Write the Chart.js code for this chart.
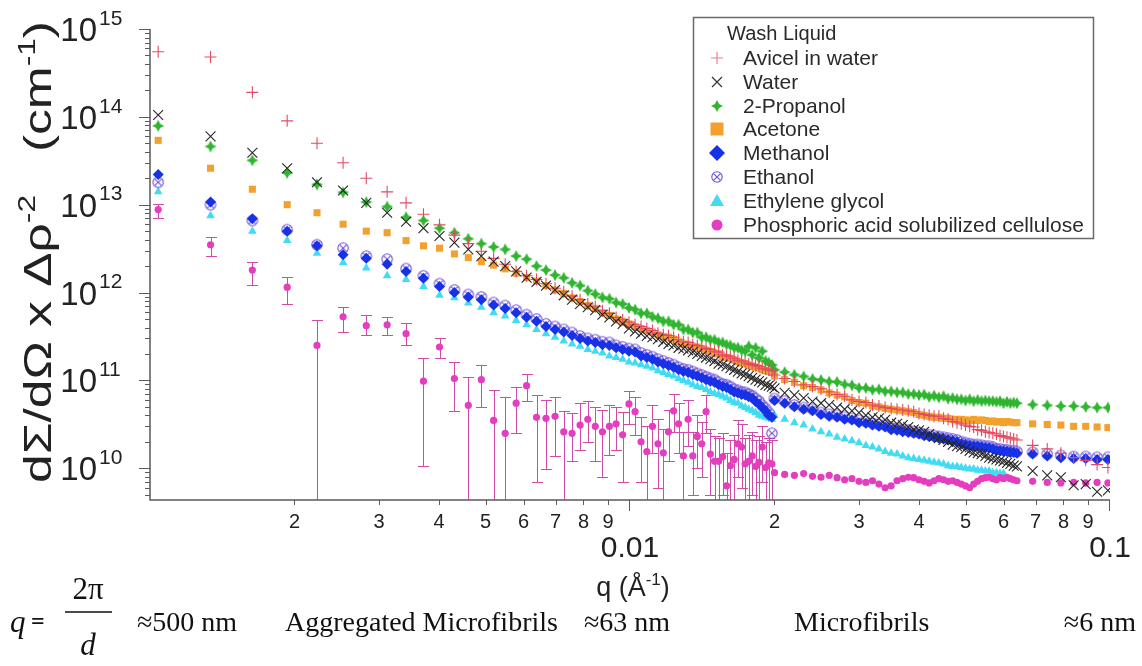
<!DOCTYPE html>
<html>
<head>
<meta charset="utf-8">
<script src="https://cdn.jsdelivr.net/npm/chart.js@4.4.1/dist/chart.umd.min.js"></script>
<style>
html,body{margin:0;padding:0;background:#fff;overflow:hidden}
canvas{display:block}
</style>
</head>
<body>
<canvas id="c" width="1142" height="666"></canvas>
<script>
// ---------- q values (Å^-1) ----------
const qLow = [0.00104,0.001337,0.001634,0.001931,0.002228,0.002525,0.002822,0.003119,0.003416,0.003713,
0.00401,0.004307,0.004604,0.004901,0.005198,0.005495,0.005792,0.006089,0.006386,0.006683,
0.00698,0.007277,0.007574,0.007871,0.008168,0.008465,0.008762,0.009059,0.009356,0.009653,
0.00995,0.010247,0.010544,0.010841,0.011138,0.011435,0.011732,0.012029,0.012326,0.012623,
0.01292,0.013217,0.013514,0.013811,0.014108,0.014405,0.014702,0.014999,0.015296,0.015593,
0.01589,0.016187,0.016484,0.016781,0.017078,0.017375,0.017672,0.017969,0.018266,0.018563,
0.01886,0.019157,0.019454,0.019751];
const qHigh = [0.020,0.021,0.022,0.023,0.024,0.025,0.026,0.027,0.028,0.029,
0.030,0.031,0.032,0.033,0.034,0.035,0.036,0.037,0.038,0.039,
0.040,0.041,0.042,0.043,0.044,0.045,0.046,0.047,0.048,0.049,
0.050,0.051,0.052,0.053,0.054,0.055,0.056,0.057,0.058,0.059,
0.060,0.061,0.062,0.063,0.064,0.069,0.074,0.079,0.084,0.089,
0.094,0.099];

// ---------- series values, dΣ/dΩ x Δρ^-2 (cm^-1) ----------
const avicelLow = [5.5e14,4.8e14,1.9e14,9.0e13,5.0e13,3.0e13,2.0e13,1.4e13,1.05e13,7.8e12,
5.9e12,4.5e12,3.6e12,2.95e12,2.45e12,2.1e12,1.74e12,1.55e12,1.41e12,1.26e12,
1.12e12,1.02e12,9.1e11,8.3e11,7.4e11,6.9e11,6.2e11,5.8e11,5.2e11,4.9e11,
4.6e11,4.3e11,4.1e11,3.9e11,3.7e11,3.45e11,3.3e11,3.25e11,3.1e11,2.9e11,
2.75e11,2.7e11,2.55e11,2.5e11,2.4e11,2.3e11,2.25e11,2.15e11,2.1e11,1.95e11,
1.9e11,1.86e11,1.78e11,1.7e11,1.66e11,1.62e11,1.55e11,1.52e11,1.48e11,1.45e11,
1.38e11,1.35e11,1.32e11,1.29e11];
const avicelHigh = [1.15e11,1.05e11,9.7e10,8.9e10,8.5e10,8.0e10,7.4e10,6.9e10,6.6e10,6.0e10,
5.75e10,5.6e10,5.25e10,5.1e10,4.9e10,4.8e10,4.7e10,4.6e10,4.5e10,4.4e10,
4.2e10,4.1e10,4.0e10,3.9e10,3.9e10,3.7e10,3.6e10,3.4e10,3.3e10,3.2e10,
3.1e10,3.0e10,2.95e10,2.75e10,2.7e10,2.6e10,2.55e10,2.5e10,2.45e10,2.35e10,
2.3e10,2.25e10,2.2e10,2.15e10,2.1e10,1.82e10,1.66e10,1.48e10,1.32e10,1.23e10,
1.1e10,1.02e10];

const waterLow = [1.05e14,6.0e13,3.9e13,2.6e13,1.8e13,1.45e13,1.05e13,8.1e12,6.4e12,5.4e12,
4.4e12,3.7e12,3.1e12,2.6e12,2.25e12,2.0e12,1.74e12,1.48e12,1.32e12,1.2e12,
1.07e12,9.3e11,8.3e11,7.4e11,6.8e11,6.3e11,5.6e11,5.2e11,4.7e11,4.4e11,
3.9e11,3.6e11,3.4e11,3.2e11,3.1e11,2.95e11,2.75e11,2.6e11,2.5e11,2.35e11,
2.3e11,2.2e11,2.1e11,2.0e11,1.9e11,1.82e11,1.74e11,1.66e11,1.55e11,1.51e11,
1.45e11,1.38e11,1.32e11,1.26e11,1.2e11,1.17e11,1.12e11,1.07e11,1.02e11,9.8e10,
9.5e10,8.9e10,8.7e10,8.5e10];
const waterHigh = [8.1e10,7.2e10,6.8e10,6.3e10,5.75e10,5.5e10,5.25e10,4.9e10,4.7e10,4.5e10,
4.3e10,4.0e10,3.8e10,3.7e10,3.55e10,3.3e10,3.2e10,3.1e10,2.95e10,2.75e10,
2.7e10,2.6e10,2.45e10,2.3e10,2.2e10,2.1e10,2.0e10,1.86e10,1.78e10,1.74e10,
1.66e10,1.58e10,1.51e10,1.48e10,1.45e10,1.38e10,1.32e10,1.29e10,1.26e10,1.23e10,
1.2e10,1.15e10,1.12e10,1.07e10,1.05e10,9.3e9,8.3e9,7.9e9,6.4e9,6.6e9,
5.4e9,5.6e9];

const propanolLow = [7.9e13,4.6e13,3.2e13,2.3e13,1.7e13,1.38e13,1.07e13,9.5e12,7.2e12,6.6e12,
5.4e12,4.8e12,4.1e12,3.6e12,3.3e12,3.1e12,2.6e12,2.4e12,2.0e12,1.8e12,
1.58e12,1.47e12,1.29e12,1.2e12,1.05e12,9.6e11,8.8e11,8.5e11,7.7e11,7.4e11,
6.7e11,6.4e11,5.8e11,5.8e11,5.3e11,5.1e11,4.7e11,4.7e11,4.3e11,4.3e11,
3.8e11,3.8e11,3.5e11,3.5e11,3.1e11,3.1e11,2.9e11,2.9e11,2.7e11,2.7e11,
2.55e11,2.5e11,2.35e11,2.35e11,2.2e11,2.15e11,2.45e11,1.95e11,2.35e11,1.8e11,
2.15e11,1.66e11,1.6e11,1.5e11];
const propanolHigh = [1.32e11,1.24e11,1.16e11,1.11e11,1.04e11,1.01e11,9.7e10,9.6e10,9.0e10,8.8e10,
8.2e10,8.2e10,7.8e10,7.9e10,7.5e10,7.5e10,7.3e10,7.3e10,7.0e10,7.0e10,
6.8e10,6.9e10,6.5e10,6.7e10,6.4e10,6.6e10,6.2e10,6.3e10,6.1e10,6.1e10,
5.9e10,6.1e10,5.8e10,6.0e10,5.8e10,5.9e10,5.8e10,5.8e10,5.7e10,5.8e10,
5.5e10,5.7e10,5.5e10,5.6e10,5.5e10,5.3e10,5.2e10,5.1e10,5.1e10,5.0e10,
4.9e10,4.9e10];

const acetoneLow = [5.4e13,2.6e13,1.5e13,1.0e13,8.1e12,6.0e12,5.0e12,4.8e12,3.9e12,3.4e12,
3.2e12,2.75e12,2.5e12,2.25e12,2.05e12,1.86e12,1.66e12,1.48e12,1.35e12,1.2e12,
1.07e12,9.8e11,8.7e11,7.9e11,7.1e11,6.6e11,5.9e11,5.5e11,5.0e11,4.7e11,
4.4e11,4.1e11,3.9e11,3.7e11,3.55e11,3.3e11,3.16e11,3.1e11,2.95e11,2.75e11,
2.6e11,2.57e11,2.45e11,2.4e11,2.3e11,2.2e11,2.14e11,2.04e11,2.0e11,1.86e11,
1.82e11,1.78e11,1.7e11,1.62e11,1.58e11,1.55e11,1.48e11,1.45e11,1.41e11,1.38e11,
1.32e11,1.29e11,1.26e11,1.23e11];
const acetoneHigh = [1.12e11,1.02e11,9.5e10,8.7e10,8.3e10,7.8e10,7.2e10,6.8e10,6.5e10,5.9e10,
5.6e10,5.5e10,5.1e10,5.0e10,4.8e10,4.7e10,4.6e10,4.5e10,4.4e10,4.3e10,
4.1e10,4.0e10,3.9e10,3.8e10,3.8e10,3.7e10,3.7e10,3.6e10,3.6e10,3.6e10,
3.55e10,3.5e10,3.6e10,3.5e10,3.55e10,3.5e10,3.4e10,3.45e10,3.35e10,3.4e10,
3.3e10,3.4e10,3.35e10,3.3e10,3.3e10,3.2e10,3.15e10,3.1e10,3.0e10,3.0e10,
2.95e10,2.9e10];

const methanolLow = [2.2e13,1.07e13,6.9e12,5.0e12,3.4e12,2.7e12,2.45e12,2.1e12,1.74e12,1.45e12,
1.17e12,1.0e12,8.9e11,8.3e11,7.2e11,6.6e11,5.9e11,5.25e11,4.7e11,4.1e11,
3.8e11,3.55e11,3.25e11,3.0e11,2.8e11,2.7e11,2.55e11,2.5e11,2.35e11,2.25e11,
2.15e11,2.1e11,1.9e11,1.82e11,1.74e11,1.62e11,1.55e11,1.48e11,1.41e11,1.32e11,
1.26e11,1.23e11,1.17e11,1.12e11,1.07e11,1.02e11,9.8e10,9.5e10,8.9e10,8.5e10,
8.3e10,7.9e10,7.4e10,7.2e10,6.9e10,6.8e10,6.5e10,6.3e10,5.75e10,5.4e10,
4.9e10,4.5e10,4.0e10,3.8e10];
const methanolHigh = [5.9e10,5.5e10,5.0e10,4.7e10,4.5e10,4.1e10,3.9e10,3.8e10,3.6e10,3.55e10,
3.3e10,3.25e10,3.1e10,3.0e10,2.95e10,2.75e10,2.7e10,2.6e10,2.55e10,2.5e10,
2.45e10,2.35e10,2.3e10,2.25e10,2.2e10,2.15e10,2.1e10,2.05e10,2.0e10,1.9e10,
1.86e10,1.82e10,1.78e10,1.78e10,1.74e10,1.7e10,1.7e10,1.66e10,1.58e10,1.58e10,
1.55e10,1.55e10,1.51e10,1.51e10,1.48e10,1.45e10,1.38e10,1.32e10,1.29e10,1.29e10,
1.26e10,1.26e10];

const ethanolLow = [1.8e13,1.0e13,6.6e12,5.2e12,3.5e12,3.2e12,2.6e12,2.4e12,1.87e12,1.55e12,
1.26e12,1.07e12,9.5e11,8.9e11,7.7e11,7.1e11,6.3e11,5.6e11,5.0e11,4.4e11,
4.1e11,3.8e11,3.5e11,3.2e11,3.0e11,2.9e11,2.75e11,2.7e11,2.5e11,2.4e11,
2.3e11,2.25e11,2.05e11,1.95e11,1.86e11,1.74e11,1.66e11,1.58e11,1.51e11,1.41e11,
1.35e11,1.32e11,1.26e11,1.2e11,1.15e11,1.1e11,1.05e11,1.02e11,9.5e10,9.1e10,
8.9e10,8.5e10,7.9e10,7.7e10,7.4e10,7.3e10,7.0e10,6.7e10,6.2e10,5.8e10,
5.2e10,4.8e10,4.3e10,2.5e10];
const ethanolHigh = [6.2e10,5.8e10,5.25e10,4.9e10,4.7e10,4.3e10,4.1e10,4.0e10,3.8e10,3.7e10,
3.5e10,3.4e10,3.25e10,3.15e10,3.1e10,2.9e10,2.85e10,2.75e10,2.7e10,2.6e10,
2.55e10,2.45e10,2.4e10,2.35e10,2.3e10,2.25e10,2.2e10,2.15e10,2.1e10,2.0e10,
1.95e10,1.9e10,1.86e10,1.86e10,1.82e10,1.78e10,1.78e10,1.74e10,1.66e10,1.66e10,
1.62e10,1.62e10,1.58e10,1.58e10,1.55e10,1.52e10,1.45e10,1.4e10,1.36e10,1.36e10,
1.33e10,1.33e10];

const glycolLow = [1.4e13,7.5e12,5.0e12,3.9e12,2.8e12,2.2e12,1.9e12,1.55e12,1.41e12,1.17e12,
9.3e11,8.7e11,7.6e11,6.8e11,5.9e11,5.4e11,4.8e11,4.3e11,3.8e11,3.4e11,
3.1e11,2.8e11,2.6e11,2.45e11,2.25e11,2.15e11,2.05e11,1.9e11,1.82e11,1.74e11,
1.62e11,1.58e11,1.51e11,1.45e11,1.38e11,1.29e11,1.23e11,1.17e11,1.12e11,1.05e11,
1.0e11,9.5e10,8.9e10,8.5e10,8.3e10,7.9e10,7.4e10,7.1e10,6.9e10,6.6e10,
6.3e10,5.9e10,5.6e10,5.5e10,5.1e10,4.9e10,4.7e10,4.5e10,4.3e10,4.0e10,
3.9e10,3.8e10,3.7e10,3.6e10];
const glycolHigh = [4.0e10,3.6e10,3.3e10,3.1e10,2.8e10,2.6e10,2.45e10,2.25e10,2.15e10,2.05e10,
1.95e10,1.82e10,1.74e10,1.66e10,1.55e10,1.48e10,1.45e10,1.38e10,1.32e10,1.29e10,
1.26e10,1.23e10,1.2e10,1.17e10,1.15e10,1.12e10,1.07e10,1.05e10,1.05e10,1.02e10,
1.0e10,9.8e9,9.8e9,9.5e9,9.5e9,9.3e9,9.3e9,8.9e9,8.9e9,8.7e9,
8.7e9,null,null,null,null,null,null,null,null,null,
null,null];

const pascLow = [8.8e12,3.5e12,1.8e12,1.15e12,2.5e11,5.3e11,4.2e11,4.3e11,3.4e11,9.8e10,
2.4e11,1.05e11,5.2e10,1.02e11,3.5e10,2.5e10,5.5e10,8.7e10,3.8e10,3.7e10,
3.9e10,2.6e10,2.5e10,3.1e10,3.6e10,3.0e10,2.6e10,3.0e10,3.2e10,2.4e10,
5.4e10,4.4e10,2.0e10,1.55e10,3.0e10,1.9e10,1.5e10,2.6e10,4.5e10,3.2e10,
1.38e10,3.6e10,1.38e10,2.3e10,1.9e10,4.4e10,1.45e10,1.2e10,1.2e10,1.35e10,
6.3e9,1.07e10,1.26e10,1.9e10,1.74e10,1.12e10,1.2e10,1.38e10,1.05e10,1.17e10,
1.74e10,1.02e10,1.15e10,1.12e10];
const pascErrHigh = [1.02e13,4.3e12,2.2e12,1.5e12,4.9e11,6.8e11,5.6e11,5.3e11,4.5e11,1.8e11,
3.0e11,1.6e11,1.1e11,1.5e11,7.8e10,6.5e10,8.5e10,1.17e11,6.8e10,6.0e10,
6.5e10,4.5e10,4.2e10,5.5e10,5.8e10,5.0e10,4.6e10,5.2e10,5.0e10,4.4e10,
7.5e10,6.5e10,3.8e10,3.0e10,5.2e10,3.6e10,2.8e10,4.6e10,7.0e10,5.5e10,
2.6e10,6.0e10,2.6e10,4.0e10,3.4e10,6.8e10,2.8e10,2.3e10,2.2e10,2.5e10,
1.5e10,2.1e10,2.4e10,3.5e10,3.2e10,2.2e10,2.4e10,2.6e10,2.1e10,2.3e10,
3.0e10,2.0e10,2.2e10,2.1e10];
const pascErrLow = [7.1e12,2.6e12,1.23e12,7.5e11,1e9,3.6e11,3.3e11,3.3e11,2.5e11,1.05e10,
1.8e11,4.5e10,1e9,5.0e10,1e9,1e9,2.5e10,5.8e10,7e9,9.8e9,
1.38e10,4e9,1.2e10,1.6e10,2.0e10,1.2e10,8e9,1.4e10,1.6e10,7e9,
3.2e10,2.4e10,7e9,4e9,1.5e10,6e9,4e9,1.2e10,2.6e10,1.5e10,
4e9,1.8e10,5e9,1e10,8e9,2.5e10,5e9,4e9,4e9,5e9,
1e9,3e9,4e9,8e9,6e9,3e9,4e9,5e9,3e9,3.5e9,
7e9,3e9,4e9,4e9];
const pascHigh = [8.9e9,8.5e9,8.3e9,8.7e9,8.1e9,7.9e9,8.3e9,7.8e9,7.4e9,7.6e9,
7.1e9,6.9e9,7.2e9,6.6e9,6.0e9,6.3e9,7.2e9,7.6e9,7.9e9,7.8e9,
7.4e9,7.1e9,6.8e9,7.2e9,7.6e9,7.4e9,7.1e9,7.2e9,6.9e9,6.6e9,
6.3e9,6.0e9,6.6e9,7.1e9,7.6e9,7.8e9,7.9e9,7.6e9,7.4e9,7.8e9,
7.6e9,7.9e9,7.6e9,7.4e9,7.2e9,7.1e9,6.9e9,6.8e9,6.9e9,6.8e9,
6.9e9,6.8e9];

// ---------- labels / ticks ----------
const seriesNames = ['Avicel in water','Water','2-Propanol','Acetone','Methanol','Ethanol','Ethylene glycol','Phosphoric acid solubilized cellulose'];
const legendTitle = 'Wash Liquid';
const yExponents = [10,11,12,13,14,15];
const xDecadeStarts = [0.001, 0.01];
const minorDigits = [2,3,4,5,6,7,8,9];
const xMajorValues = [0.01, 0.1];
const xMajorLabels = ['0.01','0.1'];
const notes = [
  {t:'\u2248500 nm', x:137, align:'left'},
  {t:'Aggregated Microfibrils', x:285, align:'left'},
  {t:'\u224863 nm', x:584, align:'left'},
  {t:'Microfibrils', x:794, align:'left'},
  {t:'\u22486 nm', x:1136, align:'right'}
];

const FONT = '"Liberation Sans", Arial, sans-serif';
const SERIF = '"Liberation Serif", "Times New Roman", serif';
const COL = {
  avicel:'#e34a62', water:'#262626', propanol:'#2fb52f', acetone:'#f3a12c',
  methanol:'#1732e6', ethanol:'#6d4fd6', glycol:'#42dcf2', pasc:'#e43dc0', pascBar:'#d04aa6'
};

function makeStar(color, R, r) {
  const s = document.createElement('canvas');
  const n = Math.ceil(R * 2) + 2; s.width = n; s.height = n;
  const g = s.getContext('2d'); const c = n / 2;
  g.fillStyle = color; g.beginPath();
  for (let i = 0; i < 8; i++) {
    const ang = -Math.PI / 2 + i * Math.PI / 4;
    const rad = i % 2 === 0 ? R : r;
    g.lineTo(c + rad * Math.cos(ang), c + rad * Math.sin(ang));
  }
  g.closePath(); g.fill();
  return s;
}
function makeEthanol(color, R) {
  const s = document.createElement('canvas');
  const n = Math.ceil(R * 2) + 3; s.width = n; s.height = n;
  const g = s.getContext('2d'); const c = n / 2;
  g.strokeStyle = color; g.lineWidth = 1.1;
  g.beginPath(); g.arc(c, c, R, 0, Math.PI * 2); g.stroke();
  const d = R * 0.62;
  g.beginPath(); g.moveTo(c - d, c - d); g.lineTo(c + d, c + d); g.moveTo(c + d, c - d); g.lineTo(c - d, c + d); g.stroke();
  return s;
}
const starImg = makeStar(COL.propanol, 6, 2.9);
const ethImg = makeEthanol(COL.ethanol, 5.2);

function pts(lo, hi) {
  const out = [];
  qLow.forEach((q, i) => { if (lo[i] != null) out.push({x: q, y: lo[i]}); });
  qHigh.forEach((q, i) => { if (hi[i] != null) out.push({x: q, y: hi[i]}); });
  return out;
}

// drawing order: first dataset is drawn on top
const datasets = [
  {label: seriesNames[1], data: pts(waterLow, waterHigh), pointStyle: 'crossRot', pointRadius: 7, pointBorderColor: COL.water, pointBorderWidth: 1.1},
  {label: seriesNames[0], data: pts(avicelLow, avicelHigh), pointStyle: 'cross', pointRadius: 6, pointBorderColor: COL.avicel, pointBorderWidth: 1.1},
  {label: seriesNames[7], data: pts(pascLow, pascHigh), pointStyle: 'circle', pointRadius: 3.6, pointBackgroundColor: COL.pasc, pointBorderColor: COL.pasc, pointBorderWidth: 0},
  {label: seriesNames[4], data: pts(methanolLow, methanolHigh), pointStyle: 'rectRot', pointRadius: 5.5, pointBackgroundColor: COL.methanol, pointBorderColor: COL.methanol, pointBorderWidth: 0},
  {label: seriesNames[5], data: pts(ethanolLow, ethanolHigh), pointStyle: ethImg, pointRadius: 5},
  {label: seriesNames[2], data: pts(propanolLow, propanolHigh), pointStyle: starImg, pointRadius: 5},
  {label: seriesNames[3], data: pts(acetoneLow, acetoneHigh), pointStyle: 'rect', pointRadius: 5, pointBackgroundColor: COL.acetone, pointBorderColor: COL.acetone, pointBorderWidth: 0},
  {label: seriesNames[6], data: pts(glycolLow, glycolHigh), pointStyle: 'triangle', pointRadius: 5, pointBackgroundColor: COL.glycol, pointBorderColor: COL.glycol, pointBorderWidth: 0}
];
datasets.forEach(d => { d.showLine = false; });

function richWidth(ctx, parts, size) {
  let w = 0;
  for (const p of parts) { ctx.font = (p.sup ? Math.round(size * 0.62) : size) + 'px ' + FONT; w += ctx.measureText(p.t).width; }
  return w;
}
function drawRich(ctx, parts, x, y, size) {
  let cx = x;
  for (const p of parts) {
    const s = p.sup ? Math.round(size * 0.62) : size;
    ctx.font = s + 'px ' + FONT;
    ctx.fillText(p.t, cx, p.sup ? y - size * 0.42 : y);
    cx += ctx.measureText(p.t).width;
  }
}

function legendMarker(ctx, i, x, y) {
  ctx.save();
  switch (i) {
    case 0: ctx.strokeStyle = '#eb8090'; ctx.lineWidth = 1.2; ctx.beginPath(); ctx.moveTo(x-6,y); ctx.lineTo(x+6,y); ctx.moveTo(x,y-6); ctx.lineTo(x,y+6); ctx.stroke(); break;
    case 1: ctx.strokeStyle = '#333'; ctx.lineWidth = 1.2; ctx.beginPath(); ctx.moveTo(x-5,y-5); ctx.lineTo(x+5,y+5); ctx.moveTo(x+5,y-5); ctx.lineTo(x-5,y+5); ctx.stroke(); break;
    case 2: ctx.drawImage(starImg, x - starImg.width/2, y - starImg.height/2); break;
    case 3: ctx.fillStyle = COL.acetone; ctx.fillRect(x-6.5, y-6.5, 13, 13); break;
    case 4: ctx.fillStyle = COL.methanol; ctx.beginPath(); ctx.moveTo(x, y-8); ctx.lineTo(x+8, y); ctx.lineTo(x, y+8); ctx.lineTo(x-8, y); ctx.closePath(); ctx.fill(); break;
    case 5: ctx.drawImage(ethImg, x - ethImg.width/2, y - ethImg.height/2); break;
    case 6: ctx.fillStyle = COL.glycol; ctx.beginPath(); ctx.moveTo(x, y-7); ctx.lineTo(x+7, y+5); ctx.lineTo(x-7, y+5); ctx.closePath(); ctx.fill(); break;
    case 7: ctx.fillStyle = COL.pasc; ctx.beginPath(); ctx.arc(x, y, 5.5, 0, Math.PI*2); ctx.fill(); break;
  }
  ctx.restore();
}

const deco = {
  id: 'deco',
  beforeDraw(chart) {
    const ctx = chart.ctx; ctx.save(); ctx.fillStyle = '#fff'; ctx.fillRect(0, 0, chart.width, chart.height); ctx.restore();
  },
  beforeDatasetsDraw(chart) {
    const ctx = chart.ctx, a = chart.chartArea, xs = chart.scales.x, ys = chart.scales.y;
    ctx.save();
    ctx.beginPath(); ctx.rect(a.left, a.top, a.right - a.left, a.bottom - a.top); ctx.clip();
    ctx.strokeStyle = COL.pascBar; ctx.lineWidth = 1;
    ctx.beginPath();
    qLow.forEach((q, i) => {
      const x = Math.round(xs.getPixelForValue(q)) + 0.5;
      const yh = Math.round(ys.getPixelForValue(pascErrHigh[i])) + 0.5;
      const yl = Math.round(ys.getPixelForValue(pascErrLow[i])) + 0.5;
      ctx.moveTo(x, yh); ctx.lineTo(x, yl);
      ctx.moveTo(x - 5.5, yh); ctx.lineTo(x + 5.5, yh);
      ctx.moveTo(x - 5.5, yl); ctx.lineTo(x + 5.5, yl);
    });
    ctx.stroke();
    ctx.restore();
  },
  afterDraw(chart) {
    const ctx = chart.ctx, a = chart.chartArea, xs = chart.scales.x, ys = chart.scales.y;
    ctx.save();
    // axis lines
    ctx.strokeStyle = '#5a5a5a'; ctx.lineWidth = 1.5;
    ctx.beginPath(); ctx.moveTo(a.left, a.top); ctx.lineTo(a.left, a.bottom); ctx.lineTo(a.right, a.bottom); ctx.stroke();
    // ticks
    ctx.lineWidth = 1; ctx.beginPath();
    for (let e = 9; e <= 15; e++) {
      for (let m = 1; m <= 9; m++) {
        const v = m * Math.pow(10, e);
        if (v < ys.min * 0.999 || v > ys.max * 1.001) continue;
        const y = Math.round(ys.getPixelForValue(v)) + 0.5;
        const len = m === 1 ? 11 : 5;
        ctx.moveTo(a.left - len, y); ctx.lineTo(a.left, y);
      }
    }
    for (const d of xDecadeStarts) {
      for (const m of minorDigits) {
        const x = Math.round(xs.getPixelForValue(m * d)) + 0.5;
        ctx.moveTo(x, a.bottom); ctx.lineTo(x, a.bottom + 5);
      }
    }
    for (const v of xMajorValues) {
      const x = Math.round(xs.getPixelForValue(v)) - 0.5;
      ctx.moveTo(x, a.bottom); ctx.lineTo(x, a.bottom + 11);
    }
    ctx.stroke();

    ctx.fillStyle = '#222';
    // y tick labels 10^n
    for (const e of yExponents) {
      const y = ys.getPixelForValue(Math.pow(10, e));
      ctx.font = '33px ' + FONT; ctx.textAlign = 'right'; ctx.textBaseline = 'middle';
      ctx.fillText('10', 97, y + 3);
      ctx.font = '21px ' + FONT; ctx.textAlign = 'left';
      ctx.fillText(String(e), 99, y - 10);
    }
    // x tick labels
    ctx.textAlign = 'center'; ctx.textBaseline = 'middle';
    ctx.font = '20px ' + FONT;
    for (const d of xDecadeStarts) for (const m of minorDigits) ctx.fillText(String(m), xs.getPixelForValue(m * d), 522);
    ctx.font = '30px ' + FONT;
    xMajorValues.forEach((v, i) => ctx.fillText(xMajorLabels[i], xs.getPixelForValue(v), 549));

    // x title
    ctx.textAlign = 'left'; ctx.textBaseline = 'alphabetic';
    const xt = [{t:'q (\u00C5'}, {t:'-1', sup:true}, {t:')'}];
    const xw = richWidth(ctx, xt, 27);
    drawRich(ctx, xt, 633 - xw / 2, 596, 27);

    // y title (rotated, stretched along its length like the original)
    const yt = [{t:'d\u03A3/d\u03A9 x \u0394\u03C1'}, {t:'-2', sup:true}, {t:'   (cm'}, {t:'-1', sup:true}, {t:')'}];
    ctx.save();
    ctx.translate(51, 252); ctx.rotate(-Math.PI / 2);
    const ySize = 39;
    const yw = richWidth(ctx, yt, ySize);
    ctx.scale(462 / yw, 1);
    drawRich(ctx, yt, -yw / 2, 0, ySize);
    ctx.restore();

    // legend
    ctx.fillStyle = '#fff'; ctx.fillRect(693, 17, 401, 222);
    ctx.strokeStyle = '#6a6a6a'; ctx.lineWidth = 1.5; ctx.strokeRect(693.5, 17.5, 400, 221);
    ctx.fillStyle = '#2a2a2a'; ctx.textBaseline = 'middle'; ctx.textAlign = 'left';
    ctx.font = '20px ' + FONT;
    ctx.fillText(legendTitle, 727, 34);
    const rows = [58, 82, 106, 129, 153, 177, 201, 225];
    seriesNames.forEach((n, i) => {
      legendMarker(ctx, i, 717, rows[i]);
      ctx.fillStyle = '#2a2a2a'; ctx.font = '21px ' + FONT;
      ctx.fillText(n, 743, rows[i] + 1);
    });

    // bottom annotation
    ctx.fillStyle = '#111'; ctx.textBaseline = 'alphabetic';
    ctx.font = 'italic 31px ' + SERIF; ctx.textAlign = 'left';
    ctx.fillText('q', 10, 632);
    ctx.font = 'bold 24px ' + SERIF; ctx.fillText('=', 31, 629);
    ctx.font = '31px ' + SERIF; ctx.textAlign = 'center';
    ctx.fillText('2\u03C0', 88, 599);
    ctx.font = 'italic 31px ' + SERIF; ctx.fillText('d', 88, 655);
    ctx.strokeStyle = '#111'; ctx.lineWidth = 1.5;
    ctx.beginPath(); ctx.moveTo(65, 612); ctx.lineTo(112, 612); ctx.stroke();
    ctx.font = '28px ' + SERIF;
    for (const n of notes) { ctx.textAlign = n.align; ctx.fillText(n.t, n.x, 631); }
    ctx.restore();
  }
};

new Chart(document.getElementById('c'), {
  type: 'scatter',
  data: { datasets },
  options: {
    responsive: false,
    animation: false,
    devicePixelRatio: 1,
    events: [],
    layout: { padding: { left: 150, top: 29, right: 32, bottom: 166 } },
    scales: {
      x: { type: 'logarithmic', min: 0.001, max: 0.1, display: false },
      y: { type: 'logarithmic', min: 4.35e9, max: 1e15, display: false }
    },
    plugins: { legend: { display: false }, tooltip: { enabled: false } }
  },
  plugins: [deco]
});
</script>
</body>
</html>
